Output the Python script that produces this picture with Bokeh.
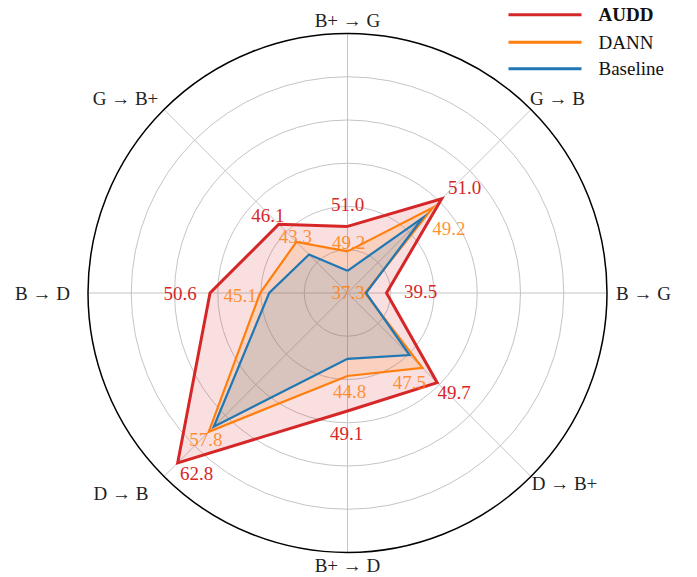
import numpy as np
from bokeh.plotting import figure
from bokeh.models import Range1d
from bokeh.core.properties import value
from bokeh.embed import file_html
from bokeh.resources import INLINE

# ---- data ----
axis_labels = ["B+ → G", "G → B", "B → G", "D → B+", "B+ → D", "D → B", "B → D", "G → B+"]
audd = [51.0, 51.0, 39.5, 49.7, 49.1, 62.8, 50.6, 46.1]
dann = [49.2, 49.2, 37.3, 47.5, 44.8, 57.8, 45.1, 43.3]
baseline = [47.8, 47.1, 37.4, 45.6, 42.7, 57.0, 44.1, 41.3]
# per-axis radial scale: value at the centre and at the outer circle
axis_min = [46.2, 31.8, 35.5, 36.4, 34.6, 35.5, 35.5, 35.2]
axis_max = [64.9, 69.2, 62.1, 63.6, 66.5, 65.0, 64.0, 64.3]
series_names = ["AUDD", "DANN", "Baseline"]

# ---- layout / style ----
W, H = 697, 577
CX, CY = 347.0, 292.5          # centre in figure pixels (from left, from top)
R = 259.5
N_RINGS = 6
FONT = "Liberation Serif"
FS = "19px"
RED, ORANGE, BLUE = "#d62728", "#ff7f0e", "#1f77b4"
colors = [RED, ORANGE, BLUE]

# label offsets (screen px, y down) relative to each point
audd_off = [(0, -22), (23, -11), (34, -2), (17, 10), (-1, 23), (19, 11), (-30, 0), (-11, -9)]
dann_off = [(1, -9), (16, 21), (-17, -1), (-13, 15), (2, 16), (-3, 8), (-20, 2), (-1, -5)]
# axis label centres relative to the chart centre (screen px, y down)
axis_lab_pos = [(0, -272.5), (210, -194.5), (296, 0), (217, 190.5),
                (0, 272.5), (-226.5, 200.5), (-305, 0), (-222, -194.5)]

p = figure(width=W, height=H, output_backend="svg", toolbar_location=None,
           x_range=Range1d(-CX, W - CX), y_range=Range1d(-(H - CY), CY),
           min_border=0)
p.axis.visible = False
p.grid.visible = False
p.outline_line_color = None
p.background_fill_color = "white"

n = len(axis_labels)
ang = np.deg2rad(90 - 45 * np.arange(n))
amin = np.array(axis_min)
amax = np.array(axis_max)


def to_xy(vals):
    v = np.array(vals, dtype=float)
    r = (v - amin) / (amax - amin) * R
    return r * np.cos(ang), r * np.sin(ang)


# grid rings
ring_r = [R * k / N_RINGS for k in range(1, N_RINGS)]
p.circle(x=[0] * len(ring_r), y=[0] * len(ring_r), radius=ring_r,
         fill_color=None, line_color="#c4c4c4", line_width=1)
# spokes
p.segment(x0=np.zeros(n), y0=np.zeros(n), x1=R * np.cos(ang), y1=R * np.sin(ang),
          line_color="#c4c4c4", line_width=1)

# series fills and lines
all_series = [audd, dann, baseline]
for vals, c in zip(all_series, colors):
    xs, ys = to_xy(vals)
    p.patch(x=list(xs), y=list(ys), fill_color=c, fill_alpha=0.15, line_color=None)
widths = [3, 2.2, 2.2]
for vals, c, w in zip(all_series, colors, widths):
    xs, ys = to_xy(vals)
    p.line(x=list(xs) + [xs[0]], y=list(ys) + [ys[0]], line_color=c, line_width=w,
           line_join="miter")

# outer circle
p.circle(x=[0], y=[0], radius=[R], fill_color=None, line_color="black", line_width=1.5)

# value labels
for vals, offs, c, a in [(audd, audd_off, RED, 1.0), (dann, dann_off, ORANGE, 0.85)]:
    xs, ys = to_xy(vals)
    for xi, yi, v, (dx, dy) in zip(xs, ys, vals, offs):
        p.text(x=[xi], y=[yi], text=[f"{v:.1f}"], x_offset=dx, y_offset=dy,
               text_color=c, text_alpha=a, text_font=value(FONT), text_font_size=FS,
               text_align="center", text_baseline="middle")

# axis labels
p.text(x=[q[0] for q in axis_lab_pos], y=[-q[1] for q in axis_lab_pos], text=axis_labels,
       text_color="#222222", text_font=value(FONT), text_font_size=FS,
       text_align="center", text_baseline="middle")

# legend (manual so that AUDD can be bold)
leg_x0, leg_x1, leg_tx = 161, 234, 251
leg_y = [278.2, 250.8, 224.2]
for name, c, yy in zip(series_names, colors, leg_y):
    p.segment(x0=[leg_x0], y0=[yy], x1=[leg_x1], y1=[yy], line_color=c, line_width=3)
    p.text(x=[leg_tx], y=[yy], text=[name], text_color="#111111", text_font=value(FONT),
           text_font_size=FS, text_align="left", text_baseline="middle",
           text_font_style="bold" if name == "AUDD" else "normal")

open("out.html", "w").write(file_html(p, INLINE))
